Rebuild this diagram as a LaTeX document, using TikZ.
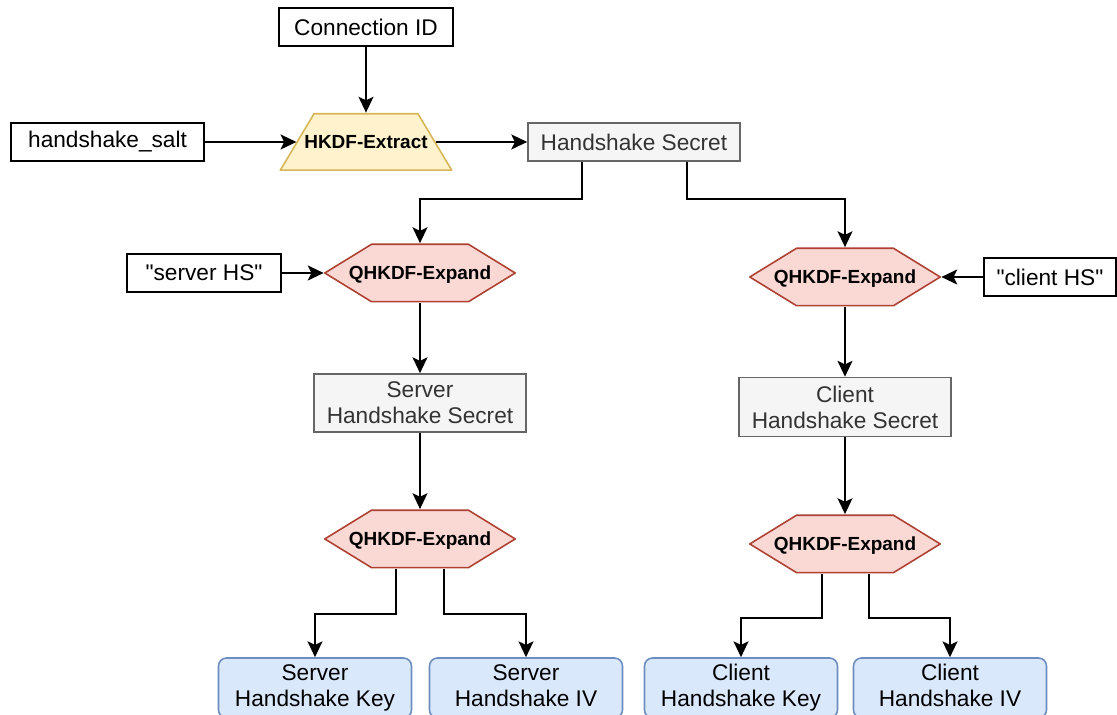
\documentclass[tikz,border=0pt]{standalone}
\usepackage{fontspec}
\setmainfont{Liberation Sans}
\usetikzlibrary{positioning,arrows.meta}

\definecolor{extfill}{HTML}{FFF2CC}
\definecolor{extline}{HTML}{D6B656}
\definecolor{expfill}{HTML}{FAD9D5}
\definecolor{expline}{HTML}{AE4132}
\definecolor{secfill}{HTML}{F5F5F5}
\definecolor{secline}{HTML}{666666}
\definecolor{sectext}{HTML}{333333}
\definecolor{keyfill}{HTML}{DAE8FC}
\definecolor{keyline}{HTML}{6C8EBF}

\begin{document}
\begin{tikzpicture}[x=0.02cm,y=-0.02cm,on grid,
  every node/.style={font=\fontsize{12.9}{14.8}\selectfont,align=center,inner sep=0pt},
  inbox/.style={draw,line width=0.9pt,minimum height=0.76cm},
  secret/.style={draw=secline,fill=secfill,text=sectext,line width=0.9pt,minimum width=4.24cm},
  extract/.style={minimum width=3.46cm,minimum height=1.16cm,text depth=0pt,
    font=\fontsize{10.8}{13}\selectfont\bfseries,
    path picture={\filldraw[draw=extline,fill=extfill,line width=0.9pt]
      ([shift={(0.45pt,0.45pt)}]path picture bounding box.south west)
      -- ([shift={(0.69cm,-0.45pt)}]path picture bounding box.north west)
      -- ([shift={(-0.69cm,-0.45pt)}]path picture bounding box.north east)
      -- ([shift={(-0.45pt,0.45pt)}]path picture bounding box.south east) -- cycle;}},
  expand/.style={minimum width=3.84cm,minimum height=1.18cm,text depth=0pt,
    font=\fontsize{10.8}{13}\selectfont\bfseries,
    path picture={\filldraw[draw=expline,fill=expfill,line width=0.9pt]
      ([xshift=0.45pt]path picture bounding box.west)
      -- ([shift={(0.95cm,-0.45pt)}]path picture bounding box.north west)
      -- ([shift={(-0.95cm,-0.45pt)}]path picture bounding box.north east)
      -- ([xshift=-0.45pt]path picture bounding box.east)
      -- ([shift={(-0.95cm,0.45pt)}]path picture bounding box.south east)
      -- ([shift={(0.95cm,0.45pt)}]path picture bounding box.south west) -- cycle;}},
  keybox/.style={draw=keyline,fill=keyfill,rounded corners=0.16cm,line width=0.9pt,
    minimum width=3.86cm,minimum height=1.2cm,execute at end node={\vphantom{y}}},
  arr/.style={-{Stealth[length=9pt,width=8.5pt,inset=2pt]},line width=1.1pt}]
\useasboundingbox (0,0) rectangle (1117,715);

% extract step
\node[inbox,minimum width=3.48cm] (cid) at (366,27) {Connection ID};
\node[extract] (ext) [below=2.3cm of cid] {HKDF-Extract};
\node[inbox,minimum width=3.86cm] (salt) [left=5.17cm of ext] {handshake\_salt};
\node[secret,minimum height=0.76cm] (hs) [right=5.36cm of ext] {Handshake Secret};

% server side
\node[expand] (exps) at (420,273) {QHKDF-Expand};
\node[inbox,minimum width=3.08cm] (shs) [left=4.32cm of exps] {\textquotedbl server HS\textquotedbl};
\node[secret,minimum height=1.16cm] (ssec) [below=2.6cm of exps] {Server\\Handshake Secret};
\node[expand] (exps2) [below=2.72cm of ssec] {QHKDF-Expand};
\node[keybox] (skey) at (315,688) {Server\\Handshake Key};
\node[keybox] (siv) at (526,688) {Server\\Handshake IV};

% client side
\node[expand] (expc) at (845,277) {QHKDF-Expand};
\node[inbox,minimum width=2.64cm] (chs) [right=4.1cm of expc] {\textquotedbl client HS\textquotedbl};
\node[secret,minimum height=1.18cm] (csec) [below=2.6cm of expc] {Client\\Handshake Secret};
\node[expand] (expc2) [below=2.74cm of csec] {QHKDF-Expand};
\node[keybox] (ckey) at (741,688) {Client\\Handshake Key};
\node[keybox] (civ) at (950,688) {Client\\Handshake IV};

\draw[arr] (cid.south) -- (ext.north);
\draw[arr] (salt.east) -- ([xshift=0.345cm]ext.west);
\draw[arr] ([xshift=-0.345cm]ext.east) -- (hs.west);
\draw[arr] ([xshift=-1.04cm]hs.south) -- ++(0,-0.74cm) -| (exps.north);
\draw[arr] ([xshift=1.06cm]hs.south) -- ++(0,-0.74cm) -| (expc.north);
\draw[arr] (shs.east) -- (exps.west);
\draw[arr] (chs.west) -- (expc.east);
\draw[arr] (exps.south) -- (ssec.north);
\draw[arr] (expc.south) -- (csec.north);
\draw[arr] (ssec.south) -- (exps2.north);
\draw[arr] (csec.south) -- (expc2.north);
\draw[arr] ([xshift=-0.48cm]exps2.south) -- ++(0,-0.9cm) -| (skey.north);
\draw[arr] ([xshift=0.48cm]exps2.south) -- ++(0,-0.9cm) -| (siv.north);
\draw[arr] ([xshift=-0.46cm]expc2.south) -- ++(0,-0.88cm) -| (ckey.north);
\draw[arr] ([xshift=0.48cm]expc2.south) -- ++(0,-0.88cm) -| (civ.north);
\end{tikzpicture}
\end{document}
